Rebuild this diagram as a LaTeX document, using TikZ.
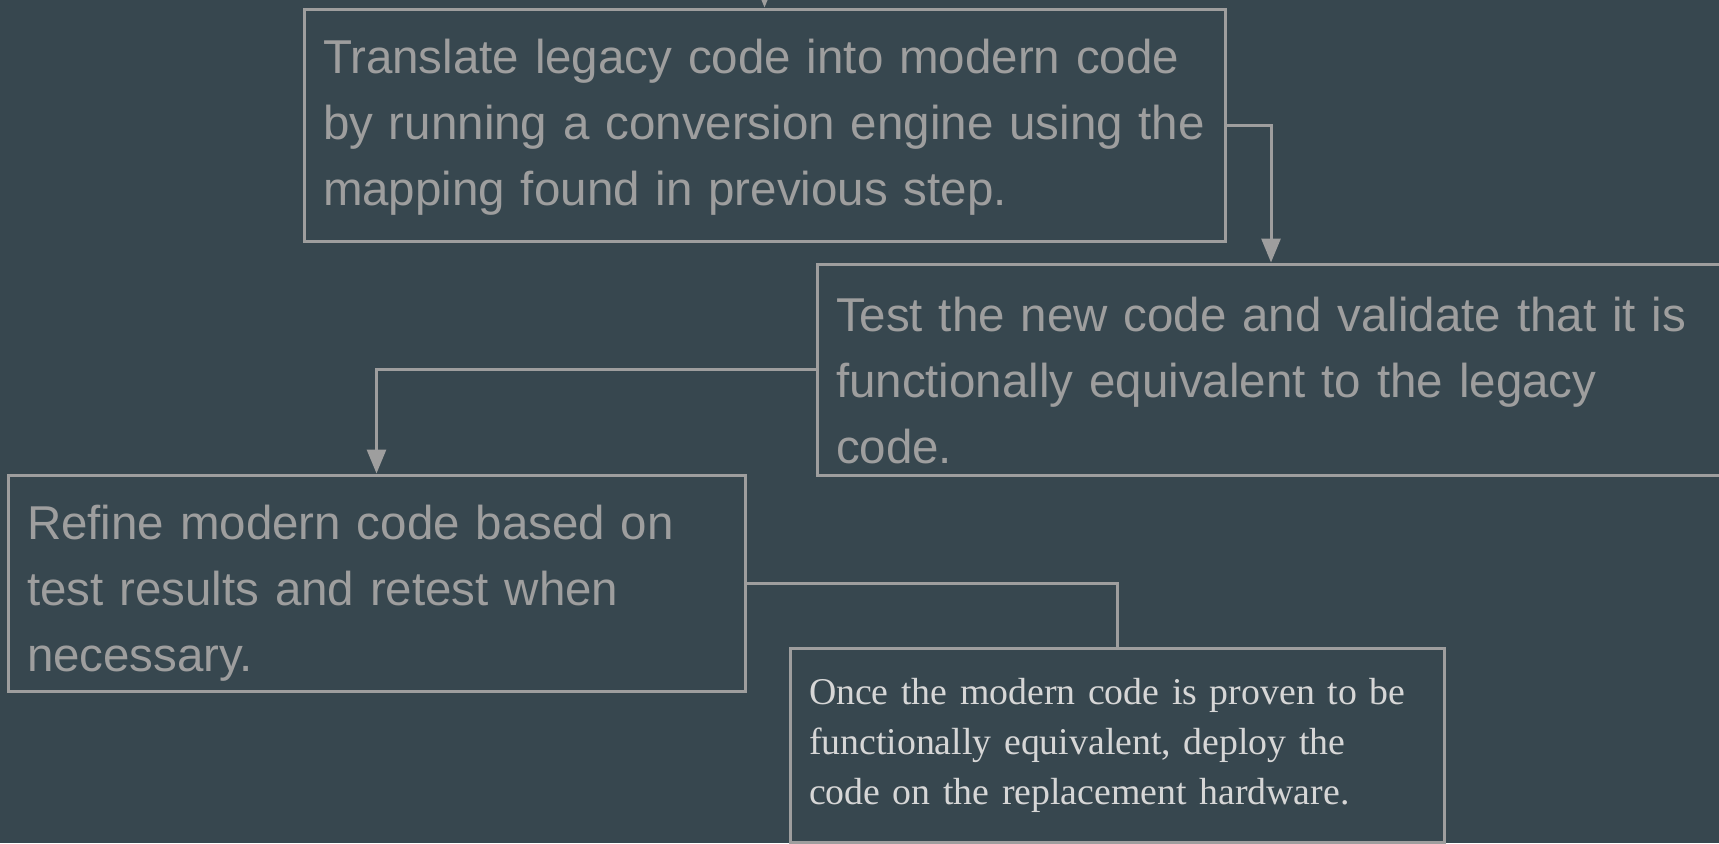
\documentclass[tikz,border=0pt]{standalone}
\usepackage{fontspec}
\setmainfont{Liberation Serif}
\setsansfont{Liberation Sans}
\usepackage{tikz}
\usetikzlibrary{arrows.meta}
\definecolor{bgcol}{HTML}{37474F}
\definecolor{linecol}{HTML}{9E9E9E}
\definecolor{notecol}{HTML}{D6D6D6}
\tikzset{stage/.style={draw=linecol,line width=1.5pt,rectangle,align=left,
    inner xsep=9.5pt,inner ysep=0pt,text=linecol,
    font=\sffamily\fontsize{23.75}{33}\selectfont}}
\tikzset{lastnote/.style={stage,text=notecol,
    font=\rmfamily\fontsize{18.9}{25}\selectfont}}
\tikzset{conn/.style={draw=linecol,line width=1.5pt}}
\tikzset{arr/.style={conn,-{Triangle[length=12pt,width=9.5pt]}}}

\begin{document}
\begin{tikzpicture}[x=0.5pt,y=-0.5pt]
        \fill[bgcol] (0,0) rectangle (1719,843);
        \useasboundingbox (0,0) rectangle (1719,843);
        \clip (0,0) rectangle (1719,843);
        % steps
        \node[stage, text height=19.3pt, text width=441.5pt, minimum height=116pt] (translate) at (764.5,125)
          {Translate legacy code into modern code\\by running a conversion engine using the\\mapping found in previous step.};
        \node[stage, text height=28pt, text width=435pt, minimum height=105.5pt] (test) at (1271,369.5)
          {Test the new code and validate that it is\\functionally equivalent to the legacy\\code.};
        \node[stage, text height=27.3pt, text width=349.5pt, minimum height=108pt] (refine) at (376.5,583)
          {Refine modern code based on\\test results and retest when\\necessary.};
        \node[lastnote, text width=308pt, minimum height=97pt] (deploy) at (1117,745)
          {Once the modern code is proven to be\\functionally equivalent, deploy the\\code on the replacement hardware.};
        % links
        \coordinate (incoming) at (764.5,-60);
        \draw[arr] (incoming) -- (translate.north);
        \draw[arr] (translate.east) -| (test.north);
        \draw[arr] (test.west) -| (refine.north);
        \draw[conn] (refine.east) -| (deploy.north);
      \end{tikzpicture}
\end{document}
